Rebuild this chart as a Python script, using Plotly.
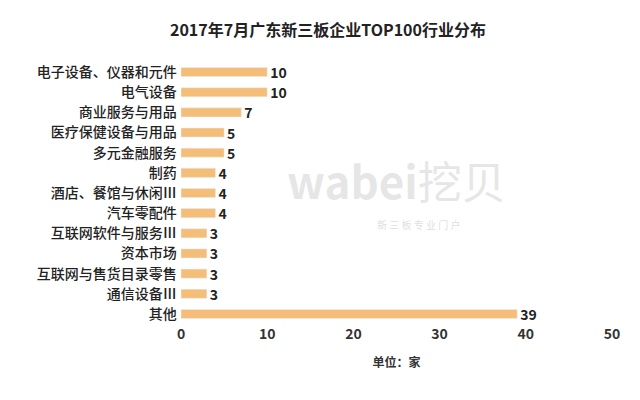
import plotly.graph_objects as go

categories = ["电子设备、仪器和元件","电气设备","商业服务与用品","医疗保健设备与用品","多元金融服务","制药",
              "酒店、餐馆与休闲Ⅲ","汽车零配件","互联网软件与服务Ⅲ","资本市场","互联网与售货目录零售","通信设备Ⅲ","其他"]
values = [10,10,7,5,5,4,4,4,3,3,3,3,39]
ticks = [0,10,20,30,40,50]

font = "Noto Sans CJK SC"
fig = go.Figure(go.Bar(
    y=categories, x=values, orientation="h", width=0.45,
    marker_color="#F4BE78", text=values, textposition="outside", constraintext="none",
    textfont=dict(size=14, color="#222", family=font, weight="bold"), cliponaxis=False))
fig.update_layout(
    width=640, height=400, plot_bgcolor="white", paper_bgcolor="white",
    margin=dict(l=173, r=36, t=54, b=84),
    title=dict(text="<b>2017年7月广东新三板企业TOP100行业分布</b>", x=0.5, xanchor="center", y=0.945,
               yanchor="middle", font=dict(size=16, family=font, color="#222")),
    showlegend=False,
    font=dict(family=font),
    annotations=[dict(text="<b>wabei</b>挖贝", x=0.5, y=0.55, xref="paper", yref="paper", showarrow=False,
                      font=dict(size=44, color="rgba(200,200,200,0.45)", family=font)),
                 dict(text="新 三 板 专 业 门 户", x=0.55, y=0.38, xref="paper", yref="paper", showarrow=False,
                      font=dict(size=10, color="rgba(200,200,200,0.6)", family=font))])
fig.update_xaxes(range=[0,50], tickvals=ticks, showgrid=False, zeroline=False, showline=False,
                 tickfont=dict(size=14, color="#333", family=font, weight="bold"),
                 title=dict(text="<b>单位：家</b>", font=dict(size=12, color="#333"), standoff=16))
fig.update_yaxes(autorange="reversed", showgrid=False, showline=False,
                 tickfont=dict(size=14, color="#222", family=font, weight=500), ticks="", ticksuffix=" ")
fig.write_html("out.html")
